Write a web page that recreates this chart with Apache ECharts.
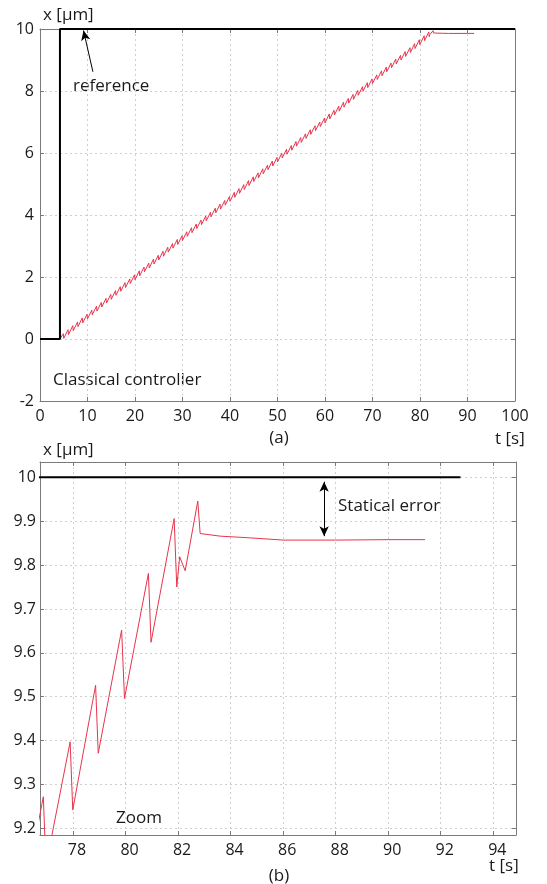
<!DOCTYPE html>
<html><head><meta charset="utf-8">
<script src="https://cdn.jsdelivr.net/npm/echarts@6/dist/echarts.min.js"></script>
<style>html,body{margin:0;padding:0;background:#fff}#c{width:547px;height:884px}</style>
</head><body><div id="c"></div>
<script>
// ---- data ----
const referenceTime = [0, 4.2, 4.2, 100];
const referenceX = [0, 0, 10, 10];
const zoomReferenceTime = [76.7, 92.75];
const zoomReferenceX = [10, 10];

const positionTrace = [
  [0,0],[4.2,0],
  [4.9,0.17],[5.0,0.02],[5.9,0.30],[6.0,0.14],[6.9,0.43],[7.0,0.27],[7.9,0.55],[8.0,0.40],
  [8.9,0.68],[9.0,0.52],[9.9,0.80],[10.0,0.65],[10.9,0.93],[11.0,0.78],[11.9,1.06],[12.0,0.90],
  [12.9,1.18],[13.0,1.03],[13.9,1.31],[14.0,1.16],[14.9,1.44],[15.0,1.28],[15.9,1.56],[16.0,1.41],
  [16.9,1.69],[17.0,1.54],[17.9,1.82],[18.0,1.66],[18.9,1.94],[19.0,1.79],[19.9,2.07],[20.0,1.91],
  [20.9,2.20],[21.0,2.04],[21.9,2.32],[22.0,2.17],[22.9,2.45],[23.0,2.29],[23.9,2.58],[24.0,2.42],
  [24.9,2.70],[25.0,2.55],[25.9,2.83],[26.0,2.67],[26.9,2.96],[27.0,2.80],[27.9,3.08],[28.0,2.93],
  [28.9,3.21],[29.0,3.05],[29.9,3.33],[30.0,3.18],[30.9,3.46],[31.0,3.31],[31.9,3.59],[32.0,3.43],
  [32.9,3.71],[33.0,3.56],[33.9,3.84],[34.0,3.69],[34.9,3.97],[35.0,3.81],[35.9,4.09],[36.0,3.94],
  [36.9,4.22],[37.0,4.07],[37.9,4.35],[38.0,4.19],[38.9,4.47],[39.0,4.32],[39.9,4.60],[40.0,4.44],
  [40.9,4.73],[41.0,4.57],[41.9,4.85],[42.0,4.70],[42.9,4.98],[43.0,4.82],[43.9,5.11],[44.0,4.95],
  [44.9,5.23],[45.0,5.08],[45.9,5.36],[46.0,5.20],[46.9,5.49],[47.0,5.33],[47.9,5.61],[48.0,5.46],
  [48.9,5.74],[49.0,5.58],[49.9,5.86],[50.0,5.71],[50.9,5.99],[51.0,5.84],[51.9,6.12],[52.0,5.96],
  [52.9,6.24],[53.0,6.09],[53.9,6.37],[54.0,6.22],[54.9,6.50],[55.0,6.34],[55.9,6.62],[56.0,6.47],
  [56.9,6.75],[57.0,6.60],[57.9,6.88],[58.0,6.72],[58.9,7.00],[59.0,6.85],[59.9,7.13],[60.0,6.97],
  [60.9,7.26],[61.0,7.10],[61.9,7.38],[62.0,7.23],[62.9,7.51],[63.0,7.35],[63.9,7.64],[64.0,7.48],
  [64.9,7.76],[65.0,7.61],[65.9,7.89],[66.0,7.73],[66.9,8.02],[67.0,7.86],[67.9,8.14],[68.0,7.99],
  [68.9,8.27],[69.0,8.11],[69.9,8.39],[70.0,8.24],[70.9,8.52],[71.0,8.37],[71.9,8.65],[72.0,8.49],
  [72.9,8.77],[73.0,8.62],[73.9,8.90],[74.0,8.75],[74.9,9.03],[75.0,8.87],[75.9,9.15],[76.0,9.00],
  [76.87,9.272],[76.97,9.115],[77.89,9.397],[77.99,9.242],[78.86,9.526],[78.96,9.371],
  [79.85,9.652],[79.96,9.496],[80.87,9.781],[80.97,9.624],[81.85,9.906],[81.95,9.750],
  [82.06,9.819],[82.13,9.817],[82.27,9.787],[82.75,9.946],[82.84,9.872],[83.6,9.866],
  [84.75,9.862],[86.0,9.857],[88.0,9.857],[90.0,9.858],[91.4,9.858]
];

const topTimeRange = [0, 100];
const topXRange = [-2, 10];
const zoomTimeRange = [76.743, 94.865];
const zoomXRange = [9.1847, 10.035];
const zoomTimeTicks = [78, 80, 82, 84, 86, 88, 90, 92, 94];
const zoomXTicks = [9.2, 9.3, 9.4, 9.5, 9.6, 9.7, 9.8, 9.9, 10];

// annotation anchors (data coordinates)
const referenceArrow = [[11.14, 8.62], [9.16, 9.95]];
const errorArrow = [[87.56, 9.99], [87.56, 9.866]];

// ---- chart ----
const FONT = '"Open Sans", sans-serif';
const AXIS_COLOR = '#7a7a7a';
const TEXT = '#1a1a1a';
const grid = { show: false };
const splitLine = { show: true, lineStyle: { color: '#cfcfcf', type: [2, 3], width: 1 } };

function mainAxis(base, extra) {
  return Object.assign({
    axisLine: { show: true, onZero: false, lineStyle: { color: AXIS_COLOR, width: 1 } },
    axisTick: { show: true, inside: true, length: 4, lineStyle: { color: AXIS_COLOR } },
    axisLabel: { color: TEXT, fontFamily: FONT, fontSize: 16 },
    splitLine: splitLine
  }, base, extra || {});
}
function mirrorAxis(base, extra) {
  return Object.assign({
    axisLine: { show: true, onZero: false, lineStyle: { color: AXIS_COLOR, width: 1 } },
    axisTick: { show: true, inside: true, length: 4, lineStyle: { color: AXIS_COLOR } },
    axisLabel: { show: false },
    splitLine: { show: false }
  }, base, extra || {});
}

const zip = (a, b) => a.map((v, i) => [v, b[i]]);

const option = {
  animation: false,
  backgroundColor: '#fff',
  grid: [
    { left: 40, top: 29, width: 475, height: 372 },
    { left: 40, top: 462, width: 476, height: 373 }
  ],
  xAxis: [
    mainAxis({ type: 'value', gridIndex: 0, position: 'bottom', min: topTimeRange[0], max: topTimeRange[1], interval: 10 },
      { axisLabel: { color: TEXT, fontFamily: FONT, fontSize: 16, margin: 7 } }),
    mirrorAxis({ type: 'value', gridIndex: 0, position: 'top', min: topTimeRange[0], max: topTimeRange[1], interval: 10 }),
    mainAxis({ type: 'value', gridIndex: 1, position: 'bottom', min: zoomTimeRange[0], max: zoomTimeRange[1] }, {
      axisTick: { show: true, inside: true, length: 4, lineStyle: { color: AXIS_COLOR }, customValues: zoomTimeTicks },
      axisLabel: { color: TEXT, fontFamily: FONT, fontSize: 16, margin: 7, customValues: zoomTimeTicks, padding: [0, 0, 0, 8] }
    }),
    mirrorAxis({ type: 'value', gridIndex: 1, position: 'top', min: zoomTimeRange[0], max: zoomTimeRange[1] }, {
      axisTick: { show: true, inside: true, length: 4, lineStyle: { color: AXIS_COLOR }, customValues: zoomTimeTicks }
    })
  ],
  yAxis: [
    mainAxis({ type: 'value', gridIndex: 0, position: 'left', min: topXRange[0], max: topXRange[1], interval: 2 },
      { axisLabel: { color: TEXT, fontFamily: FONT, fontSize: 16, margin: 6 } }),
    mirrorAxis({ type: 'value', gridIndex: 0, position: 'right', min: topXRange[0], max: topXRange[1], interval: 2 }),
    mainAxis({ type: 'value', gridIndex: 1, position: 'left', min: zoomXRange[0], max: zoomXRange[1] }, {
      axisTick: { show: true, inside: true, length: 4, lineStyle: { color: AXIS_COLOR }, customValues: zoomXTicks },
      axisLabel: { color: TEXT, fontFamily: FONT, fontSize: 16, margin: 4, customValues: zoomXTicks }
    }),
    mirrorAxis({ type: 'value', gridIndex: 1, position: 'right', min: zoomXRange[0], max: zoomXRange[1] }, {
      axisTick: { show: true, inside: true, length: 4, lineStyle: { color: AXIS_COLOR }, customValues: zoomXTicks }
    })
  ],
  series: [
    {
      type: 'line', xAxisIndex: 0, yAxisIndex: 0, data: positionTrace, showSymbol: false, symbol: 'none',
      lineStyle: { color: '#e8344c', width: 1 }, z: 3
    },
    {
      type: 'line', xAxisIndex: 0, yAxisIndex: 0, data: zip(referenceTime, referenceX), symbol: 'none',
      lineStyle: { color: '#000', width: 2 }, z: 4,
      markLine: {
        silent: true, animation: false, symbol: ['none', 'arrow'], symbolSize: [7, 10],
        label: { show: false }, lineStyle: { color: '#000', type: 'solid', width: 1 },
        data: [[{ coord: referenceArrow[0] }, { coord: referenceArrow[1] }]]
      }
    },
    {
      type: 'line', xAxisIndex: 2, yAxisIndex: 2, data: positionTrace, symbol: 'none',
      lineStyle: { color: '#e8344c', width: 1 }, z: 3
    },
    {
      type: 'line', xAxisIndex: 2, yAxisIndex: 2, data: zip(zoomReferenceTime, zoomReferenceX), symbol: 'none',
      lineStyle: { color: '#000', width: 2 }, z: 4,
      markLine: {
        silent: true, animation: false, symbol: ['arrow', 'arrow'], symbolSize: [7, 10],
        label: { show: false }, lineStyle: { color: '#000', type: 'solid', width: 1 },
        data: [[{ coord: errorArrow[0] }, { coord: errorArrow[1] }]]
      }
    }
  ],
  graphic: [
    txt('x [µm]', 43, 15, 'left'),
    txt('reference', 73, 86, 'left'),
    txt('Classical controller', 53, 380, 'left'),
    txt('t [s]', 495, 439, 'left'),
    txt('(a)', 279, 438, 'center'),
    txt('x [µm]', 43, 450, 'left'),
    txt('Statical error', 338, 506, 'left'),
    txt('Zoom', 116, 818, 'left'),
    txt('t [s]', 489, 866, 'left'),
    txt('(b)', 279, 876, 'center')
  ]
};

function txt(s, x, y, align) {
  return {
    type: 'text', x: x, y: y, silent: true,
    style: { text: s, fill: TEXT, font: '17px ' + FONT, align: align, textAlign: align,
             verticalAlign: 'middle', textVerticalAlign: 'middle' }
  };
}

const chart = echarts.init(document.getElementById('c'), null, { renderer: 'canvas' });
chart.setOption(option);
</script></body></html>
